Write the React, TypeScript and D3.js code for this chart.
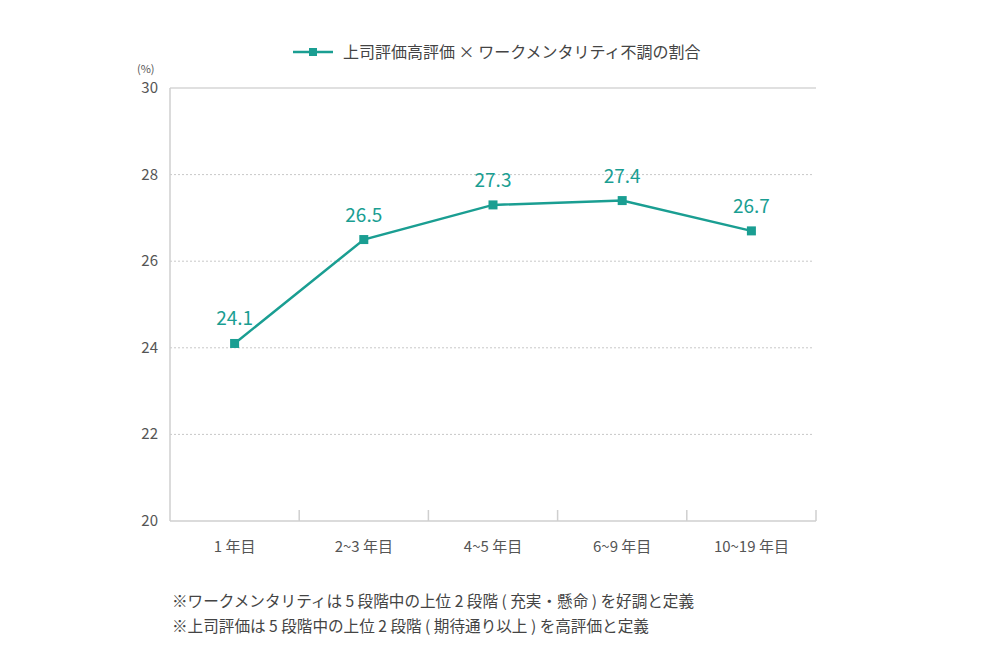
import * as d3 from "d3"

const categories = ["1 年目", "2~3 年目", "4~5 年目", "6~9 年目", "10~19 年目"]
const values = [24.1, 26.5, 27.3, 27.4, 26.7]
const yTicks = [20, 22, 24, 26, 28, 30]
const seriesName = "上司評価高評価 × ワークメンタリティ不調の割合"
const notes = [
  "※ワークメンタリティは 5 段階中の上位 2 段階 ( 充実・懸命 ) を好調と定義",
  "※上司評価は 5 段階中の上位 2 段階 ( 期待通り以上 ) を高評価と定義",
]

const TEAL = "#1a9e92"
const FONT = "'Noto Sans CJK JP', 'Noto Sans', sans-serif"

export default function App() {
  const width = 1000
  const height = 650
  const margin = { top: 88, right: 184, bottom: 129, left: 170 }

  const x = d3
    .scaleBand<string>()
    .domain(categories)
    .range([margin.left, width - margin.right])
  const y = d3
    .scaleLinear()
    .domain([20, 30])
    .range([height - margin.bottom, margin.top])

  const cx = (c: string) => x(c)! + x.bandwidth() / 2
  const line = d3
    .line<number>()
    .x((_, i) => cx(categories[i]))
    .y((v) => y(v))

  const x0 = margin.left
  const x1 = width - margin.right
  const yb = y(20)

  return (
    <svg
      width={width}
      height={height}
      style={{ position: "absolute", left: 0, top: 0, background: "#fff" }}
      fontFamily={FONT}
    >
      {/* legend */}
      <line x1={293} x2={333} y1={52} y2={52} stroke={TEAL} strokeWidth={2.5} />
      <rect x={309} y={48} width={8} height={8} fill={TEAL} />
      <text x={343} y={58} fontSize={16} fill="#444">
        {seriesName}
      </text>

      <text x={137} y={73} fontSize={11} fill="#555">
        (%)
      </text>

      {/* grid */}
      {yTicks
        .filter((t) => t > 20 && t < 30)
        .map((t) => (
          <line
            key={t}
            x1={x0}
            x2={x1 - 2}
            y1={y(t)}
            y2={y(t)}
            stroke="#c8c8c8"
            strokeWidth={1}
            strokeDasharray="2,2"
          />
        ))}
      <line x1={x0} x2={x1} y1={y(30)} y2={y(30)} stroke="#d6d6d6" strokeWidth={1.5} />
      <line x1={x0} x2={x0} y1={y(30)} y2={yb} stroke="#cfcfcf" strokeWidth={1.5} />
      <line x1={x0} x2={x1} y1={yb} y2={yb} stroke="#cfcfcf" strokeWidth={1.5} />
      {categories.map((c) => (
        <line
          key={c}
          x1={x(c)! + x.bandwidth()}
          x2={x(c)! + x.bandwidth()}
          y1={yb}
          y2={yb - 11}
          stroke="#cfcfcf"
          strokeWidth={1.5}
        />
      ))}

      {/* y labels */}
      {yTicks.map((t) => (
        <text
          key={t}
          x={158}
          y={y(t) + 5}
          textAnchor="end"
          fontSize={15}
          fill="#555"
        >
          {t}
        </text>
      ))}

      {/* x labels */}
      {categories.map((c) => (
        <text
          key={c}
          x={cx(c)}
          y={552}
          textAnchor="middle"
          fontSize={15}
          fill="#555"
        >
          {c}
        </text>
      ))}

      {/* series */}
      <path d={line(values)!} fill="none" stroke={TEAL} strokeWidth={2.5} />
      {values.map((v, i) => (
        <g key={i}>
          <rect
            x={cx(categories[i]) - 4.5}
            y={y(v) - 4.5}
            width={9}
            height={9}
            fill={TEAL}
          />
          <text
            x={cx(categories[i])}
            y={y(v) - 18}
            textAnchor="middle"
            fontSize={19}
            fill={TEAL}
          >
            {v.toFixed(1)}
          </text>
        </g>
      ))}

      {/* notes */}
      {notes.map((n, i) => (
        <text key={i} x={172} y={607 + i * 25} fontSize={15.6} fill="#444">
          {n}
        </text>
      ))}
    </svg>
  )
}
